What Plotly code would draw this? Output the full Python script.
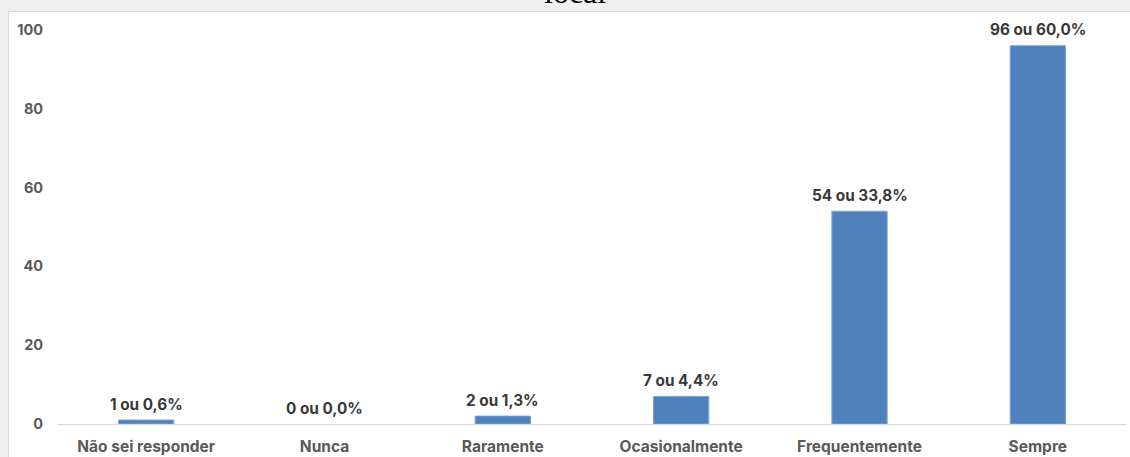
import plotly.graph_objects as go
from decimal import Decimal, ROUND_HALF_UP

# Response categories and counts
categories = ["Não sei responder", "Nunca", "Raramente", "Ocasionalmente",
              "Frequentemente", "Sempre"]
counts = [1, 0, 2, 7, 54, 96]
y_ticks = [0, 20, 40, 60, 80, 100]

total = sum(counts)


def label(n):
    pct = (Decimal(n) * 100 / Decimal(total)).quantize(Decimal("0.1"), rounding=ROUND_HALF_UP)
    return f"{n} ou {str(pct).replace('.', ',')}%"


labels = [label(n) for n in counts]

W, H = 1130, 457
ML, MR, MT, MB = 57, 3, 30, 33
pw, ph = W - ML - MR, H - MT - MB
FONT = "Inter"


def px_x(px):
    return (px - ML) / pw


def px_y(py):
    return (H - MB - py) / ph


fig = go.Figure()
fig.add_trace(go.Bar(
    x=categories, y=counts,
    marker=dict(color="#4f81bd",
                line=dict(color="#7da3d3", width=[1 if v > 0 else 0 for v in counts])),
    width=0.31,
    hoverinfo="skip",
))

annotations = [
    dict(x=c, y=v, xref="x", yref="y", text=t, showarrow=False,
         yanchor="middle", yshift=16,
         font=dict(family=FONT, size=15.3, color="#383838", weight="bold"))
    for c, v, t in zip(categories, counts, labels)
]
# Chart title, mostly cut off at the top
annotations.append(dict(
    x=px_x(575), y=px_y(12), xref="paper", yref="paper", text="local",
    showarrow=False, yanchor="bottom", xanchor="center",
    font=dict(family="Liberation Serif", size=32, color="#000000"),
))

fig.update_layout(
    width=W, height=H,
    margin=dict(l=ML, r=MR, t=MT, b=MB, pad=0, autoexpand=False),
    paper_bgcolor="#f0f0f0",
    plot_bgcolor="rgba(0,0,0,0)",
    showlegend=False,
    annotations=annotations,
    shapes=[dict(
        type="rect", xref="paper", yref="paper", layer="below",
        x0=px_x(8.5), x1=px_x(1140), y0=px_y(470), y1=px_y(11.5),
        fillcolor="#ffffff", line=dict(color="#d9d9d9", width=1),
    )],
    xaxis=dict(
        showgrid=False, zeroline=False, showline=True, linecolor="#d9d9d9",
        linewidth=1, ticks="outside", ticklen=8, tickcolor="rgba(0,0,0,0)",
        tickfont=dict(family=FONT, size=15.5, color="#595959", weight="bold"),
        fixedrange=True, automargin=False,
    ),
    yaxis=dict(
        range=[0, 100], tickvals=y_ticks, showgrid=False, zeroline=False,
        showline=False, ticks="outside", ticklen=10, tickcolor="rgba(0,0,0,0)",
        tickfont=dict(family=FONT, size=14.5, color="#595959", weight="bold"),
        fixedrange=True, automargin=False,
    ),
)

fig.write_html("out.html", config={"displayModeBar": False})
